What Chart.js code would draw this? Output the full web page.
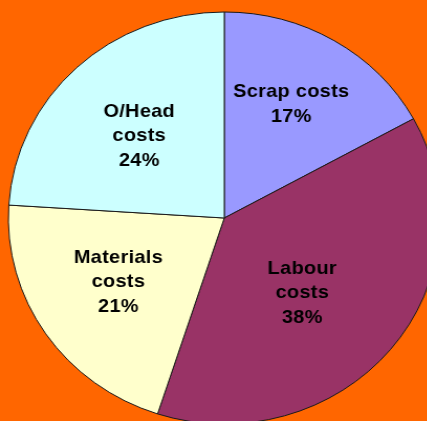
<!DOCTYPE html>
<html>
<head>
<meta charset="utf-8">
<script src="https://cdn.jsdelivr.net/npm/chart.js@4"></script>
<style>
  html, body { margin: 0; padding: 0; background: #FF6600; overflow: hidden; }
  /* the original picture is stretched a bit sideways */
  #wrap { width: 428px; height: 436px; transform: scaleX(1.048); transform-origin: 0 0; }
</style>
</head>
<body>
<div id="wrap"><canvas id="costChart" width="428" height="436"></canvas></div>
<script>
// slices, clockwise from 12 o'clock
const categories = ['Scrap costs', 'Labour costs', 'Materials costs', 'O/Head costs'];
const labelLines = [['Scrap costs', '17%'], ['Labour', 'costs', '38%'], ['Materials', 'costs', '21%'], ['O/Head', 'costs', '24%']];
const shares = [17, 38, 21, 24];
const sliceColours = ['#9999FF', '#993366', '#FFFFCC', '#CCFFFF'];

// label placement: fraction of radius, and a small turn (degrees) off the mid angle
const labelRadius = [0.634, 0.513, 0.58, 0.56];
const labelTurn = [-1.3, 5.6, 1.9, -1.5];

const sliceLabels = {
  id: 'sliceLabels',
  afterDatasetsDraw(chart) {
    const ctx = chart.ctx;
    const meta = chart.getDatasetMeta(0);
    ctx.save();
    ctx.font = 'bold 19px "Liberation Sans", Arial, sans-serif';
    ctx.fillStyle = '#000';
    ctx.textAlign = 'center';
    ctx.textBaseline = 'middle';
    ctx.letterSpacing = '0.3px';
    meta.data.forEach((arc, i) => {
      const p = arc.getProps(['x', 'y', 'startAngle', 'endAngle', 'outerRadius'], true);
      const mid = (p.startAngle + p.endAngle) / 2 + labelTurn[i] * Math.PI / 180;
      const r = p.outerRadius * labelRadius[i];
      const cx = p.x + Math.cos(mid) * r;
      const cy = p.y + Math.sin(mid) * r;
      const lines = labelLines[i];
      const lh = 24.5;
      lines.forEach((t, j) => {
        ctx.fillText(t, cx, cy + (j - (lines.length - 1) / 2) * lh);
      });
    });
    ctx.restore();
  }
};

new Chart(document.getElementById('costChart'), {
  type: 'pie',
  data: {
    labels: categories,
    datasets: [{
      data: shares,
      backgroundColor: sliceColours,
      borderColor: '#1a1a1a',
      borderWidth: 1
    }]
  },
  options: {
    responsive: false,
    animation: false,
    radius: 206,
    layout: { padding: 0 },
    plugins: {
      legend: { display: false },
      tooltip: { enabled: false }
    }
  },
  plugins: [sliceLabels]
});
</script>
</body>
</html>
